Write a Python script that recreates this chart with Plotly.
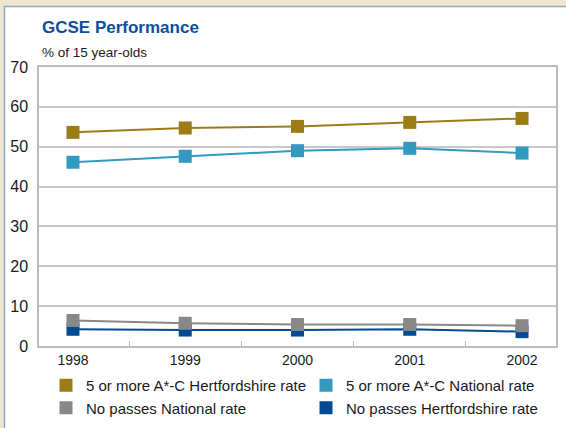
import plotly.graph_objects as go

years = ["1998", "1999", "2000", "2001", "2002"]
herts_ac = [53.6, 54.7, 55.1, 56.1, 57.1]
national_ac = [46.1, 47.6, 49.0, 49.6, 48.4]
national_nopass = [6.4, 5.7, 5.4, 5.4, 5.1]
herts_nopass = [4.2, 4.0, 4.0, 4.2, 3.6]

names = ["5 or more A*-C Hertfordshire rate", "5 or more A*-C National rate",
         "No passes National rate", "No passes Hertfordshire rate"]
colors = ["#9C7C17", "#3399BF", "#888888", "#004B93"]

FONT = "Liberation Sans, Arial, sans-serif"

fig = go.Figure()

# data traces (draw order: gold, light blue, dark blue, gray on top)
for vals, col in [(herts_ac, colors[0]), (national_ac, colors[1]),
                  (herts_nopass, colors[3]), (national_nopass, colors[2])]:
    fig.add_trace(go.Scatter(
        x=years, y=vals, mode="lines+markers",
        line=dict(color=col, width=2),
        marker=dict(symbol="square", size=13, color=col, line=dict(width=0)),
        showlegend=False, hoverinfo="x+y"))

# legend entries (squares only)
for i, (nm, col) in enumerate(zip(names, colors)):
    fig.add_trace(go.Scatter(
        x=[None], y=[None], mode="markers", name=nm,
        marker=dict(symbol="square", size=13, color=col, line=dict(width=0)),
        legendrank=i + 1))

L, R, T, B = 39, 10, 67, 82
W, H = 566, 428
pw = W - L - R
ph = H - T - B

def px(x):
    return (x - L) / pw

def py(y):
    return (H - B - y) / ph

fig.update_layout(
    width=W, height=H,
    margin=dict(l=L, r=R, t=T, b=B, autoexpand=False),
    paper_bgcolor="#EEE5CF",
    plot_bgcolor="white",
    font=dict(family=FONT, size=14, color="#1a1a1a"),
    showlegend=True,
    legend=dict(
        orientation="h", x=px(46), y=py(369), xanchor="left", yanchor="top",
        entrywidth=215, entrywidthmode="pixels",
        font=dict(family=FONT, size=15, color="#1a1a1a"),
        bgcolor="rgba(0,0,0,0)", tracegroupgap=0, itemsizing="trace",
        traceorder="normal",
    ),
    xaxis=dict(
        type="category", tickson="boundaries", ticks="inside", ticklen=5,
        tickcolor="#BBBBBB", showgrid=False, showline=True, linecolor="#BBBBBB",
        linewidth=1.5, mirror=True, tickfont=dict(size=14, color="#1a1a1a"),
        fixedrange=True,
    ),
    yaxis=dict(
        range=[0, 70], dtick=10, showgrid=True, gridcolor="#C8C8C8", gridwidth=1.5,
        showline=True, linecolor="#BBBBBB", linewidth=1.5, mirror=True,
        ticks="", tickfont=dict(size=16, color="#1a1a1a"), zeroline=False,
        ticklabelstandoff=6, fixedrange=True,
    ),
    shapes=[
        dict(type="rect", xref="paper", yref="paper",
             x0=px(4.5), x1=px(W + 10), y0=py(H + 10), y1=py(6.5),
             fillcolor="white", line=dict(color="#8EA9CC", width=1.5), layer="below"),
    ],
    annotations=[
        dict(text="<b>GCSE Performance</b>", xref="paper", yref="paper",
             x=px(40), y=py(28), xanchor="left", yanchor="middle", showarrow=False,
             font=dict(family=FONT, size=17, color="#0B4F9C")),
        dict(text="% of 15 year-olds", xref="paper", yref="paper",
             x=px(40), y=py(52), xanchor="left", yanchor="middle", showarrow=False,
             font=dict(family=FONT, size=13.5, color="#1a1a1a")),
    ],
)

fig.write_html("out.html", config={"displayModeBar": False},
               post_script="document.body.style.margin='0';")
